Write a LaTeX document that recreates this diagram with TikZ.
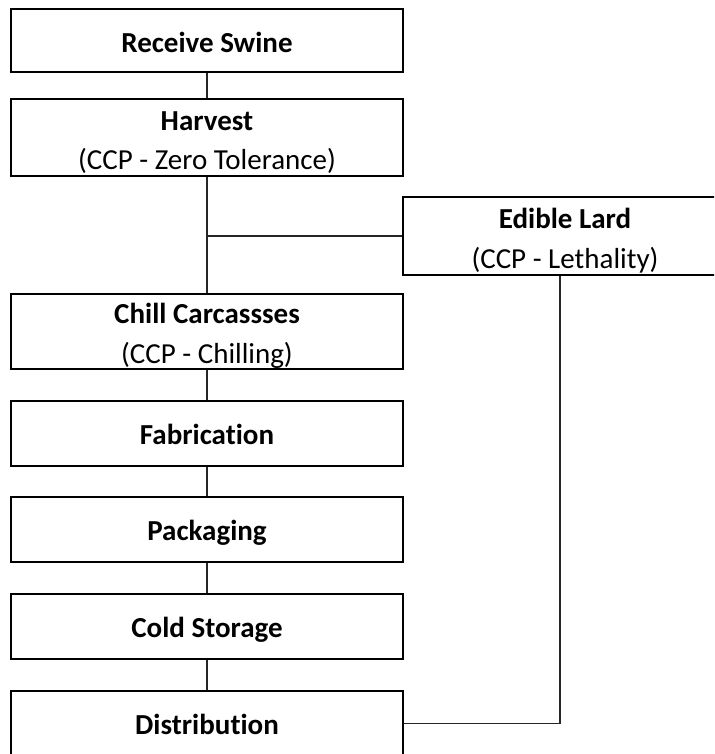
\documentclass[tikz,border=0pt]{standalone}
\usepackage{fontspec}
\setmainfont[Ligatures=NoCommon]{Carlito}
\newcommand\steptext[2]{\raisebox{0pt}[#1][0pt]{\begin{tabular}[b]{@{}c@{}}#2\end{tabular}}}
\begin{document}
\begin{tikzpicture}[x=1pt,y=-1pt,
  stepbox/.style={draw=black,line width=1.3pt,fill=white,minimum width=392pt,inner sep=0pt,
    font=\fontsize{29}{39.5}\selectfont},
  link/.style={draw=black!85,line width=1.3pt}]
\useasboundingbox (0,0) rectangle (714,754);
\clip (0,0) rectangle (714,754);
\node[stepbox,minimum height=63pt] (recv) at (207,40.5) {\steptext{24pt}{\textbf{Receive Swine}}};
\node[stepbox,minimum height=77pt] (harv) at (207,137.5) {\steptext{65pt}{\textbf{Harvest}\\(CCP - Zero Tolerance)}};
\node[stepbox,minimum height=78pt,minimum width=324pt] (lard) at (565,236) {\steptext{64pt}{\textbf{Edible Lard}\\(CCP - Lethality)}};
\node[stepbox,minimum height=75pt] (chill) at (207,331.5) {\steptext{63pt}{\textbf{Chill Carcassses}\\(CCP - Chilling)}};
\node[stepbox,minimum height=65pt] (fab) at (207,433.5) {\steptext{21pt}{\textbf{Fabrication}}};
\node[stepbox,minimum height=65pt] (pack) at (207,529.5) {\steptext{21pt}{\textbf{Packaging}}};
\node[stepbox,minimum height=65pt] (cold) at (207,626.5) {\steptext{21pt}{\textbf{Cold Storage}}};
\node[stepbox,minimum height=65pt] (dist) at (207,723.5) {\steptext{21pt}{\textbf{Distribution}}};
\coordinate (lardout) at (560,275);
\draw[link] (recv) -- (harv);
\draw[link] (harv) -- (chill);
\draw[link] (lard.west) -- (lard.west -| harv.south);
\draw[link] (chill) -- (fab);
\draw[link] (fab) -- (pack);
\draw[link] (pack) -- (cold);
\draw[link] (cold) -- (dist);
\draw[link] (lardout |- lard.south) |- (dist.east);
\end{tikzpicture}
\end{document}
